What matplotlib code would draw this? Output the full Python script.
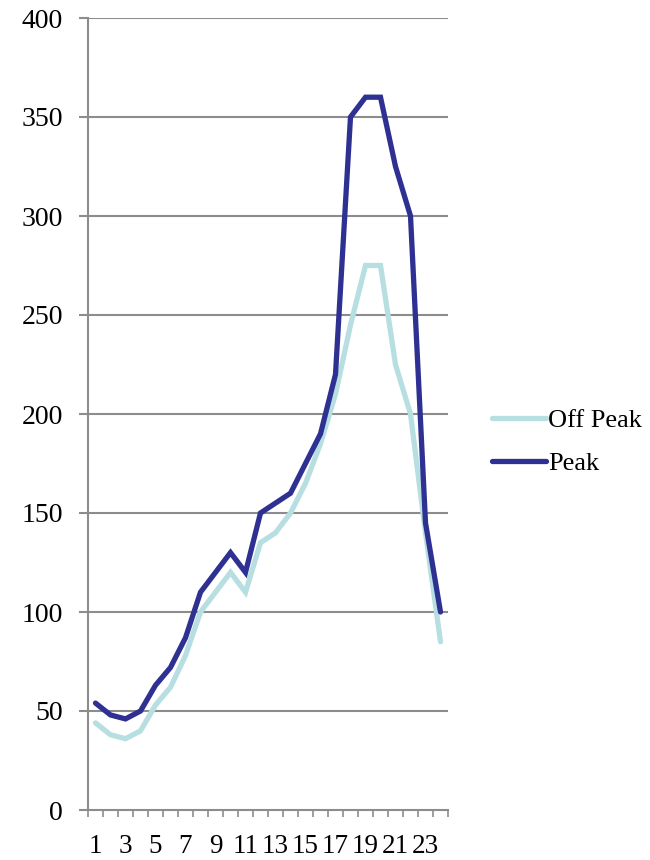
import matplotlib
matplotlib.use("Agg")
import matplotlib.pyplot as plt

hours = list(range(1, 25))
off_peak = [44, 38, 36, 40, 53, 62, 78, 100, 110, 120, 110, 135, 140, 150, 165, 185,
            210, 245, 275, 275, 225, 200, 140, 85]
peak = [54, 48, 46, 50, 63, 72, 87, 110, 120, 130, 120, 150, 155, 160, 175, 190,
        220, 350, 360, 360, 325, 300, 145, 100]
tick_labels = [str(h) for h in range(1, 24, 2)]
y_ticks = list(range(0, 401, 50))

plt.rcParams['font.family'] = ['Liberation Serif', 'DejaVu Serif']

fig = plt.figure(figsize=(6.5, 8.6), dpi=100)
ax = fig.add_axes([88/650, 50/860, 360/650, 792/860])

grid_c = '#8c8c8c'
c_off = '#b7dfe1'
c_peak = '#2e3192'

for v in y_ticks[1:]:
    ax.axhline(v, color=grid_c, lw=1.5, zorder=1)

l1, = ax.plot(hours, off_peak, color=c_off, lw=3.8, solid_joinstyle='miter',
              solid_capstyle='round', zorder=3, label='Off Peak')
l2, = ax.plot(hours, peak, color=c_peak, lw=3.8, solid_joinstyle='miter',
              solid_capstyle='round', zorder=4, label='Peak')

ax.set_xlim(0.5, 24.5)
ax.set_ylim(0, 400)
ax.set_yticks(y_ticks)
ax.set_yticklabels([str(v) for v in y_ticks])
ax.set_xticks([i + 0.5 for i in range(0, 25)])
ax.set_xticklabels([])
ax.set_xticks(list(range(1, 24, 2)), minor=True)
ax.set_xticklabels(tick_labels, minor=True)
ax.tick_params(axis='x', which='major', length=5, width=1.2, color=grid_c, direction='out')
ax.tick_params(axis='x', which='minor', length=0, pad=17, labelsize=19.5)
ax.tick_params(axis='y', length=6.5, width=1.5, color=grid_c, direction='out', pad=11.5, labelsize=20)

for s in ['top', 'right']:
    ax.spines[s].set_visible(False)
ax.spines['left'].set_color(grid_c)
ax.spines['left'].set_linewidth(1.5)
ax.spines['bottom'].set_color(grid_c)
ax.spines['bottom'].set_linewidth(1.5)

fig.legend(handles=[l1, l2], loc='center left', bbox_to_anchor=(481/650, 1 - 442/860),
           frameon=False, fontsize=19, handlelength=2.05, handletextpad=0.1,
           labelspacing=0.75, borderaxespad=0)

fig.savefig('out.png', dpi=100)
